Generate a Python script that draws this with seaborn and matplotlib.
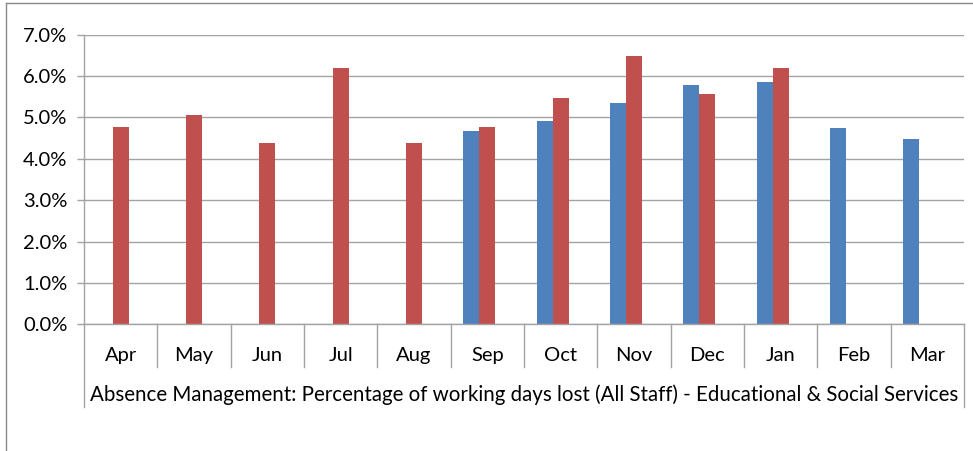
import numpy as np
import pandas as pd
import matplotlib
matplotlib.use("Agg")
import matplotlib.pyplot as plt
import matplotlib.transforms as mtransforms
from matplotlib.lines import Line2D
from matplotlib.ticker import FuncFormatter
import seaborn as sns

# ---- data ----
months = ["Apr", "May", "Jun", "Jul", "Aug", "Sep", "Oct", "Nov", "Dec", "Jan", "Feb", "Mar"]
series_blue = [np.nan, np.nan, np.nan, np.nan, np.nan, 4.67, 4.92, 5.35, 5.79, 5.86, 4.75, 4.48]
series_red = [4.77, 5.06, 4.38, 6.20, 4.38, 4.77, 5.47, 6.49, 5.57, 6.20, np.nan, np.nan]
yticks = [0, 1, 2, 3, 4, 5, 6, 7]
title = "Absence Management: Percentage of working days lost (All Staff) - Educational & Social Services"

df = pd.DataFrame({
    "Month": months * 2,
    "Series": ["blue"] * len(months) + ["red"] * len(months),
    "Value": series_blue + series_red,
})

plt.rcParams["font.family"] = ["Lato", "DejaVu Sans"]
GRID = "#A3A3A3"
W, H = 973, 451

fig = plt.figure(figsize=(W / 100, H / 100), dpi=100)
x0, x1 = 84, 964
y_top, y_bot = 34.7, 324.3
ax = fig.add_axes([x0 / W, 1 - y_bot / H, (x1 - x0) / W, (y_bot - y_top) / H])

sns.barplot(
    data=df, x="Month", y="Value", hue="Series", order=months,
    hue_order=["blue", "red", "pad"],
    palette={"blue": "#4F81BD", "red": "#C0504D", "pad": "#FFFFFF"},
    width=0.655, dodge=True, errorbar=None, legend=False, ax=ax,
    linewidth=0, saturation=1,
)

ax.set_xlim(-0.5, len(months) - 0.5)
ax.set_ylim(0, 7)
ax.set_yticks(yticks)
ax.yaxis.set_major_formatter(FuncFormatter(lambda v, p: f"{v:.1f}%"))
ax.yaxis.grid(True, color=GRID, linewidth=1.0)
ax.set_axisbelow(True)
for s in ["top", "right"]:
    ax.spines[s].set_visible(False)
for s in ["left", "bottom"]:
    ax.spines[s].set_color(GRID)
    ax.spines[s].set_linewidth(1.0)
ax.tick_params(axis="y", length=5.0, width=1.0, color=GRID, pad=7, labelsize=14.5, labelcolor="#000000")
ax.tick_params(axis="x", length=0, pad=16, labelsize=14.5, labelcolor="#000000")
ax.set_xlabel("")
ax.set_ylabel("")

# category separators and lower box lines
axh = y_bot - y_top
trans = mtransforms.blended_transform_factory(ax.transData, ax.transAxes)
sep_low = -(367 - y_bot) / axh
box_low = -(407 - y_bot) / axh
for i in range(1, len(months)):
    ax.plot([i - 0.5, i - 0.5], [0, sep_low], color=GRID, lw=1.0, transform=trans, clip_on=False)
for xb in [-0.5, len(months) - 0.5]:
    ax.plot([xb, xb], [0, box_low], color=GRID, lw=1.0, transform=trans, clip_on=False)

# title below the categories, fitted to the width seen in the reference
t = fig.text((x0 + x1) / 2 / W, 1 - 395 / H, title, ha="center", va="center", fontsize=12, color="#000000")
fig.canvas.draw()
bb = t.get_window_extent(renderer=fig.canvas.get_renderer())
t.set_fontsize(12 * 868 / bb.width)

# outer chart frame (partly visible)
fig.add_artist(Line2D([6 / W, 6 / W], [0, 1 - 3 / H], color="#8A8A8A", lw=1.0, transform=fig.transFigure))
fig.add_artist(Line2D([6 / W, 1], [1 - 3 / H, 1 - 3 / H], color="#8A8A8A", lw=1.0, transform=fig.transFigure))

fig.savefig("out.png", dpi=100)
